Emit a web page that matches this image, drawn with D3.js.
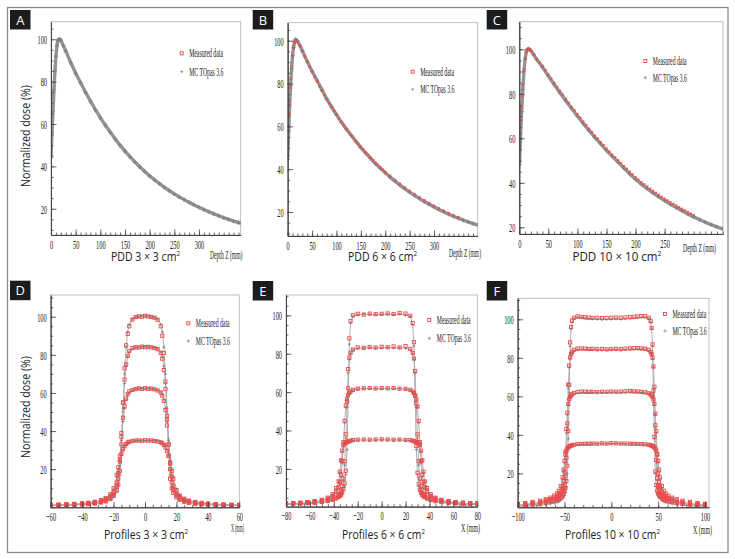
<!DOCTYPE html>
<html><head><meta charset="utf-8">
<script src="https://cdn.jsdelivr.net/npm/d3@7"></script>
<style>
body{margin:0;background:#fff;}
svg{display:block;}
</style></head><body>
<svg id="chart" width="735" height="559"></svg>
<script>
// ---------------- DATA ----------------
// PDD 3x3
const pddA_depthMC = [0,2,4,6,8,10,12,14,16,18,20,25,30,40,50,60,70,80,90,100,110,120,130,140,150,160,170,180,190,200,210,220,230,240,250,260,270,280,290,300,310,320,330,340,350,360,370,380,385];
const pddA_MC = [44,56,66,76,85,92,97,99.5,100,100,99.5,97,94.5,89,84,79.5,75,70.8,66.8,63,59.5,56.2,53,50,47.2,44.6,42.1,39.8,37.6,35.5,33.6,31.8,30.1,28.5,27,25.6,24.3,23,21.8,20.7,19.6,18.6,17.6,16.7,15.8,15,14.2,13.5,13.2];
const pddA_depthMeas = [0,1,2,3,4,5,6,8,10,12,14,16,18,20,25,30,40,50,60,70,80,90,100,110,120,130,140,150,160,170,180,190,200,210,220,230,240,250,260,270,280,290,300,310,320,330,340,350,360,370,380];
const pddA_Meas = [45,54,60,65,70,75,79,86,92,96.5,99,99.8,99.6,99,96.6,94,88.6,83.5,79,74.5,70.3,66.3,62.5,59,55.7,52.5,49.5,46.8,44.2,41.8,39.5,37.3,35.2,33.4,31.6,29.9,28.3,26.8,25.4,24.1,22.8,21.6,20.5,19.4,18.4,17.4,16.5,15.6,14.8,14,13.3];
// PDD 6x6
const pddB_depthMC = [0,2,4,6,8,10,12,14,16,18,20,25,30,40,50,60,70,80,90,100,110,120,130,140,150,160,170,180,190,200,210,220,230,240,250,260,270,280,290,300,310,320,330,340,350,360,370,380,390];
const pddB_MC = [46,58,70,79,87,93,97,99.5,100.5,100.3,99.8,97.8,95.3,90.3,85.7,81.5,77.2,72.8,69.1,65.5,62,58.8,55.8,52.9,50.1,47.5,45,42.6,40.4,38.3,36.3,34.4,32.6,30.9,29.3,27.8,26.3,24.9,23.6,22.4,21.2,20.1,19,18,17.1,16.2,15.4,14.6,13.9];
const pddB_depthMeas = [0,1,2,3,4,5,6,8,10,12,14,16,18,20,25,30,35,40,45,50,55,60,65,70,75,80,85,90,95,100,105,110,115,120,125,130,135,140,145,150,155,160,165,170,175,180,185,190,195,200,210,220,230,240,250,260,270,280,290,300,310,320,330,340,350];
const pddB_Meas = [46,52,60,66,72,78,82,88,93,96.5,98.8,99.6,99.8,99.4,97.4,95,92.6,90.1,87.7,85.4,83.1,80.9,78.7,76.6,74.6,72.6,70.7,68.9,67.1,65.4,63.7,62.1,60.5,59,57.5,56,54.6,53.2,51.8,50.5,49.2,47.9,46.7,45.5,44.3,43.1,42,40.9,39.8,38.7,36.9,35,33.2,31.5,29.9,28.4,26.9,25.5,24.2,22.9,21.7,20.6,19.5,18.5,17.6];
// PDD 10x10
const pddC_depthMC = [0,2,4,6,8,10,12,14,16,18,20,25,30,40,50,60,70,80,90,100,110,120,130,140,150,160,170,180,190,200,210,220,230,240,250,260,270,280,290,300,310,320,330,340,350];
const pddC_MC = [48,60,72,82,90,95.5,98.8,100,100.2,99.9,99.4,97.5,95.4,92,88,84.2,80.5,76.9,73.4,70,66.7,63.5,60.4,57.5,54.6,51.9,49.3,46.6,44,41.6,39.4,37.4,35.5,33.7,32,30.4,28.9,27.4,26,24.7,23.5,22.3,21.2,20.2,19.3];
const pddC_depthMeas = [0,1,2,3,4,5,6,8,10,12,14,16,18,20,25,30,35,40,45,50,55,60,65,70,75,80,85,90,95,100,105,110,115,120,125,130,135,140,145,150,155,160,165,170,175,180,185,190,195,200,205,210,215,220,225,230,235,240,245,250,255,260,265,270,275,280,285,290,295,300];
const pddC_Meas = [50,56,62,68,74,79,84,91,96,99,100,100,99.8,99.3,97.6,95.8,94,92.5,90.6,88.7,86.8,85,83.1,81.3,79.5,77.7,75.9,74.2,72.5,70.8,69.2,67.5,65.9,64.3,62.8,61.2,59.8,58.3,56.9,55.4,54,52.7,51.4,50.1,48.8,47.5,46.3,45,43.8,42.5,41.4,40.3,39.3,38.3,37.3,36.4,35.5,34.6,33.7,32.9,32.1,31.3,30.5,29.8,29,28.3,27.6,26.9,26.2,25.5];

// Profiles 3x3
const profD_x = [-60,-55,-50,-45,-40,-36,-32,-28,-25,-22,-20,-18,-17,-16,-15,-14,-13,-12,-11,-10,-8,-6,-4,-2,0,2,4,6,8,10,11,12,13,14,15,16,17,18,20,22,25,28,32,36,40,45,50,55,60];
const profD_MC100 = [0.9,1.0,1.0,1.1,1.3,1.5,1.8,2.3,2.9,4.0,5.5,8,11,17,30,50,70,84,92,96,98.8,99.6,100,100.3,100.4,100.3,100,99.6,98.8,96,92,84,70,50,30,17,11,8,5.5,4.0,2.9,2.3,1.8,1.5,1.3,1.1,1.0,1.0,0.9];
const profD_MC84 = [1.0,1.1,1.2,1.3,1.5,1.7,2.1,2.7,3.4,4.8,6.5,10,14,22,36,52,65,74,79,81.5,83.2,83.8,84,84.2,84.2,84.2,84,83.8,83.2,81.5,79,74,65,52,36,22,14,10,6.5,4.8,3.4,2.7,2.1,1.7,1.5,1.3,1.2,1.1,1.0];
const profD_MC62 = [1.1,1.2,1.3,1.5,1.7,2.0,2.5,3.2,4.0,5.6,7.5,12,17,25,35,45,52,56.5,59,60.5,61.5,62,62.2,62.3,62.3,62.3,62.2,62,61.5,60.5,59,56.5,52,45,35,25,17,12,7.5,5.6,4.0,3.2,2.5,2.0,1.7,1.5,1.3,1.2,1.1];
const profD_MC35 = [1.2,1.3,1.5,1.7,2.0,2.3,2.8,3.6,4.6,6.5,9.5,16,20,24,27.5,30,31.8,33,33.8,34.3,34.7,34.9,35,35,35,35,35,34.9,34.7,34.3,33.8,33,31.8,30,27.5,24,20,16,9.5,6.5,4.6,3.6,2.8,2.3,2.0,1.7,1.5,1.3,1.2];
const profD_Meas100 = [1.1,1.1,1.2,1.3,1.5,1.7,2.0,2.5,3.1,4.3,6,9,12,19,33,55,73,85,91,95,98.5,99.8,100.2,100,100.5,100.1,99.9,99.5,98.4,95,90,81,66,46,27,15,10,7.5,5.2,3.9,2.9,2.3,1.9,1.6,1.4,1.2,1.1,1.1,1.0];
const profD_Meas84 = [1.2,1.2,1.3,1.4,1.6,1.8,2.2,2.8,3.6,5.0,7,11,15,24,39,55,67,75,79.5,82,83.5,84,83.8,84.3,84,84.2,83.9,83.6,83,81,78,72,62,48,33,20,13,9.5,6.2,4.6,3.3,2.6,2.1,1.7,1.5,1.3,1.2,1.1,1.1];
const profD_Meas62 = [1.2,1.3,1.4,1.6,1.8,2.1,2.6,3.4,4.3,6.0,8,13,18,27,37,47,53,57,59.3,60.8,61.6,62,62.4,62.1,62.5,62.2,62.3,61.9,61.3,60.2,58.6,55.8,51,43,33,23,16,11,7.2,5.4,3.9,3.1,2.5,2.0,1.7,1.5,1.3,1.2,1.2];
const profD_Meas35 = [1.3,1.4,1.6,1.8,2.1,2.4,2.9,3.8,4.9,7,10,17,21,25,28,30.5,32,33.2,34,34.4,34.8,35,35.1,34.9,35.2,35,35.1,34.8,34.5,34.1,33.6,32.7,31.5,29.5,27,23.5,19,15,9,6.2,4.5,3.5,2.8,2.3,2.0,1.7,1.5,1.4,1.3];

// Profiles 6x6
const profE_x = [-80,-74,-68,-62,-56,-50,-45,-41,-38,-36,-35,-34,-33,-32,-31,-30,-29,-28,-27,-26,-24,-20,-15,-10,-5,0,5,10,15,20,24,26,27,28,29,30,31,32,33,34,35,36,38,41,45,50,56,62,68,74,80];
const profE_MC100 = [1.4,1.5,1.6,1.8,2.0,2.4,2.9,3.5,4.2,5,5.5,6,7,8.5,11,17,30,55,85,96,99.5,100.3,100.6,100.5,100.4,100.5,100.6,100.4,100.7,100.2,99.4,95,84,55,30,17,11,8.5,7,6,5.5,5,4.2,3.5,2.9,2.4,2.0,1.8,1.6,1.5,1.4];
const profE_MC83 = [1.6,1.7,1.8,2.0,2.3,2.8,3.4,4.2,5,6,6.6,8,10,14,22,36,52,70,77,80,82,82.8,83,83.2,83,83.1,83.2,83,83.1,82.9,82,80,77,70,52,36,22,14,10,8,6.6,6,5,4.2,3.4,2.8,2.3,2.0,1.8,1.7,1.6];
const profE_MC62 = [1.8,1.9,2.0,2.3,2.7,3.3,4.2,5.5,7.5,10,12.5,16,23,33,44,52,56,58,59.3,60,61,61.6,61.8,61.9,61.8,61.9,61.8,61.9,61.7,61.6,61,60,59.3,58,56,52,44,33,23,16,12.5,10,7.5,5.5,4.2,3.3,2.7,2.3,2.0,1.9,1.8];
const profE_MC35 = [1.9,2.0,2.2,2.5,3.0,3.7,4.8,6.5,9.5,13,18,24,29,32,33,33.5,33.8,34,34.3,34.5,34.8,35,35.1,35,35.1,35.2,35.1,35,35.1,34.9,34.8,34.5,34.3,34,33.8,33.5,33,32,29,24,18,13,9.5,6.5,4.8,3.7,3.0,2.5,2.2,2.0,1.9];
const profE_Meas100 = [1.8,1.9,2.0,2.2,2.4,2.8,3.3,3.9,4.6,5.4,5.9,6.5,7.6,9.5,12.5,19,34,62,88,97,100,100.8,100.4,100.9,100.6,100.8,101,100.7,101.2,100.9,99.8,96,86,58,32,18,12,9,7.5,6.4,5.8,5.3,4.5,3.8,3.2,2.7,2.3,2.1,1.9,1.8,1.7];
const profE_Meas83 = [1.9,2.0,2.1,2.3,2.6,3.1,3.7,4.5,5.4,6.4,7,8.5,11,15,24,38,55,72,78,80.5,82.2,83.3,83.1,83.5,83.2,83.6,83.4,83.8,83.3,84,82.5,80.4,77.5,71,54,38,24,15,11,8.6,7,6.4,5.4,4.5,3.7,3.1,2.6,2.3,2.1,2.0,1.9];
const profE_Meas62 = [2.0,2.1,2.3,2.6,3.0,3.6,4.5,5.9,8,10.5,13,17,24,34,45,53,56.5,58.5,59.6,60.3,61.2,61.8,62,62.1,61.9,62.1,62,62.1,61.8,61.7,61.2,60.3,59.5,58.3,56.3,52.5,45,34,24,17,13,10.5,8,5.9,4.5,3.6,3.0,2.6,2.3,2.1,2.0];
const profE_Meas35 = [2.1,2.2,2.4,2.7,3.2,3.9,5.0,6.8,10,13.5,18.5,24.5,29.5,32.3,33.2,33.7,34,34.2,34.5,34.7,35,35.2,35.3,35.2,35.3,35.4,35.3,35.2,35.3,35.1,35,34.7,34.5,34.2,34,33.7,33.2,32.3,29.5,24.5,18.5,13.5,10,6.8,5.0,3.9,3.2,2.7,2.4,2.2,2.1];

// Profiles 10x10
const profF_x = [-100,-92,-84,-76,-70,-65,-61,-58,-56,-54,-52,-51,-50,-49,-48,-47,-46,-45,-44,-43,-42,-40,-36,-32,-28,-24,-20,-15,-10,-5,0,5,10,15,20,24,28,32,36,40,42,43,44,45,46,47,48,49,50,51,52,54,56,58,61,65,70,76,84,92,100];
const profF_MC100 = [2.6,2.8,3.1,3.4,3.8,4.2,4.6,5.0,5.4,6,7,7.7,8.6,10,13,20,38,62,86,95,98.5,100.3,101,100.8,100.6,100.3,100.2,100.1,100,100,100.1,100.2,100.1,100.3,100.4,100.6,100.8,101,101.1,100.4,98.5,95,86,62,38,20,13,10,8.6,7.7,7,6,5.4,5.0,4.6,4.2,3.8,3.4,3.1,2.8,2.6];
const profF_MC84 = [3.0,3.3,3.6,4.1,4.6,5.1,5.7,6.3,6.9,7.8,9.3,10.5,12.5,16.5,26,44,64,75,79.5,81.5,82.6,83.6,84.2,84.3,84.3,84.2,84.2,84.1,84,84.1,84.2,84.2,84.1,84.3,84.4,84.4,84.5,84.4,84.3,83.7,82.6,81.5,79.5,75,64,44,26,16.5,12.5,10.5,9.3,7.8,6.9,6.3,5.7,5.1,4.6,4.1,3.6,3.3,3.0];
const profF_MC62 = [3.3,3.6,4.0,4.5,5.1,5.7,6.5,7.3,8.2,9.6,12,14.5,19,29,41,50.5,55.5,58,59.3,60,60.5,61.2,61.7,61.9,62,62,62,62,62,62,62.1,62.1,62,62.1,62.2,62.2,62.1,62,61.7,61.2,60.5,60,59.3,58,55.5,50.5,41,29,19,14.5,12,9.6,8.2,7.3,6.5,5.7,5.1,4.5,4.0,3.6,3.3];
const profF_MC35 = [3.6,4.0,4.5,5.1,5.8,6.6,7.6,8.7,10,12.5,17,21,25.5,29,31.3,32.6,33.3,33.7,34,34.2,34.4,34.7,35,35.1,35.2,35.2,35.3,35.3,35.4,35.4,35.5,35.5,35.4,35.3,35.3,35.3,35.2,35.1,35,34.7,34.4,34.2,34,33.7,33.3,32.6,31.3,29,25.5,21,17,12.5,10,8.7,7.6,6.6,5.8,5.1,4.5,4.0,3.6];
const profF_Meas100 = [3.2,3.5,3.9,4.3,4.8,5.3,5.8,6.3,6.8,7.5,8.6,9.5,10.8,12.5,16,24,42,66,88,96,99.3,100.8,101.5,101.2,101,100.9,100.7,100.8,100.6,100.7,100.8,100.9,100.8,101,101.1,101.3,101.5,101.7,101.6,100.8,99,95.5,87,63,39,21,14,11,9.6,8.7,8,7,6.4,6,5.5,5,4.6,4.2,3.8,3.5,3.3];
const profF_Meas84 = [3.6,4.0,4.4,4.9,5.5,6.1,6.8,7.4,8.1,9.1,10.7,12,14.2,18.5,28,46,66,76,80.2,82,83.1,84.2,84.8,84.9,84.8,84.6,84.7,84.5,84.6,84.4,84.6,84.7,84.5,84.8,84.9,85,85.1,84.9,84.7,84.2,83,82,80,75.5,65,45,27,17.5,13.5,11.5,10.2,8.7,7.9,7.2,6.5,5.9,5.3,4.8,4.2,3.9,3.6];
const profF_Meas62 = [3.9,4.3,4.8,5.3,6.0,6.7,7.6,8.4,9.4,10.8,13.3,16,21,31,43,51.5,56,58.5,59.8,60.5,61,61.8,62.3,62.5,62.4,62.3,62.4,62.2,62.4,62.3,62.5,62.4,62.5,62.6,62.7,62.6,62.5,62.3,62.1,61.6,61,60.5,59.6,58.3,56,51,42,30,20,15.5,13,10.6,9.2,8.3,7.4,6.6,5.9,5.3,4.7,4.3,3.9];
const profF_Meas35 = [4.2,4.6,5.2,5.8,6.6,7.4,8.5,9.6,11,13.5,18,22,26.5,29.8,31.8,32.9,33.5,33.9,34.2,34.4,34.6,34.9,35.2,35.3,35.4,35.4,35.5,35.4,35.6,35.5,35.7,35.6,35.5,35.5,35.4,35.4,35.3,35.2,35.1,34.9,34.6,34.4,34.2,33.9,33.5,32.9,31.8,29.8,26.5,22,18,13.5,11,9.6,8.5,7.4,6.6,5.8,5.2,4.6,4.2];

// Tick labels
const ticksPDD_AB = [0,50,100,150,200,250,300];
const ticksPDD_C = [0,50,100,150,200,250];
const ticksProfD = [-60,-40,-20,0,20,40,60];
const ticksProfE = [-80,-60,-40,-20,0,20,40,60,80];
const ticksProfF = [-100,-50,0,50,100];
const ticksDose = [20,40,60,80,100];
const legendLabels = ["Measured data","MC TOpas 3.6"];

// ---------------- DRAWING ----------------
const svg = d3.select("#chart");
const RED = "#ee4a4a";
const SERIF = "'Liberation Serif', serif", SANS = "'Open Sans', sans-serif";

svg.append("rect").attr("x",7.5).attr("y",7.5).attr("width",720.5).attr("height",545)
  .attr("fill","none").attr("stroke","#8a8a8a").attr("stroke-width",1.3);

function squeeze(sel, f){
  sel.each(function(){
    const w = this.getComputedTextLength();
    if (w>0) d3.select(this).attr("textLength", w*f).attr("lengthAdjust","spacingAndGlyphs");
  });
}
function fitTo(sel, w){ sel.attr("textLength", w).attr("lengthAdjust","spacingAndGlyphs"); }

const pddSeries = (dm, vm, dc, vc) => [{x:dc,y:vc,t:"mc",w:3.4},{x:dm,y:vm,t:"meas"}];
const profSeries = (x, mcs, meas) => mcs.map(v=>({x:x,y:v,t:"mc",w:0.9})).concat(meas.map(v=>({x:x,y:v,t:"meas"})));

const panels = [
 {id:"A", box:[10,10], f:[51,240.7,21.7,235], xd:[0,384.5], yd:[7.6,108.3], xt:ticksPDD_AB, xm:10, ym:5, redUnder:true,
  xlab:"Depth Z (mm)", xlabPos:[210,258.5], xlabW:32.5, title:"PDD 3 × 3 cm", tPos:[145.5,261], tW:69, leg:[181.7,53.3,71.7], ytitle:136,
  series: pddSeries(pddA_depthMeas,pddA_Meas,pddA_depthMC,pddA_MC), pdd:true},
 {id:"B", box:[252.7,10], f:[287.7,477.7,22.7,236], xd:[0,389.6], yd:[8.8,108.4], xt:ticksPDD_AB, xm:10, ym:5,
  xlab:"Depth Z (mm)", xlabPos:[449,256.5], xlabW:32, title:"PDD 6 × 6 cm", tPos:[382.5,261], tW:69, leg:[412.7,71.7,89.3],
  series: pddSeries(pddB_depthMeas,pddB_Meas,pddB_depthMC,pddB_MC), pdd:true},
 {id:"C", box:[486.7,10], f:[519.3,723,21.7,234], xd:[0,350.5], yd:[17,112.4], xt:ticksPDD_C, xm:10, ym:5,
  xlab:"Depth Z (mm)", xlabPos:[683,251.5], xlabW:33, title:"PDD 10 × 10 cm", tPos:[617,261], tW:89, leg:[645.3,61,77.7],
  series: pddSeries(pddC_depthMeas,pddC_Meas,pddC_depthMC,pddC_MC), pdd:true},
 {id:"D", box:[10,280.7], f:[50.7,239.3,295,507.3], xd:[-60,60], yd:[0,111.4], xt:ticksProfD, xm:5, ym:5,
  xlab:"X (mm)", xlabPos:[231,531.5], xlabW:13, title:"Profiles 3 × 3 cm", tPos:[146,539], tW:84, leg:[188.3,323.3,341], ytitle:407,
  series: profSeries(profD_x,[profD_MC100,profD_MC84,profD_MC62,profD_MC35],[profD_Meas100,profD_Meas84,profD_Meas62,profD_Meas35])},
 {id:"E", box:[252.7,281], f:[286,477.3,295,506.7], xd:[-80,80], yd:[0.3,110.6], xt:ticksProfE, xm:5, ym:5,
  xlab:"X (mm)", xlabPos:[461,531.5], xlabW:19, title:"Profiles 6 × 6 cm", tPos:[383.5,539], tW:83, leg:[429.3,320,338.3],
  series: profSeries(profE_x,[profE_MC100,profE_MC83,profE_MC62,profE_MC35],[profE_Meas100,profE_Meas83,profE_Meas62,profE_Meas35])},
 {id:"F", box:[486.7,281], f:[517.7,709,298.3,507.3], xd:[-100,104.3], yd:[2.4,110.9], xt:ticksProfF, xm:10, ym:5,
  xlab:"X (mm)", xlabPos:[693,533.5], xlabW:19, title:"Profiles 10 × 10 cm", tPos:[612.5,539], tW:95, leg:[665,314,331],
  series: profSeries(profF_x,[profF_MC100,profF_MC84,profF_MC62,profF_MC35],[profF_Meas100,profF_Meas84,profF_Meas62,profF_Meas35])}
];

function cross(g, x, y, s, color, sw){
  g.append("path").attr("d",`M${x-s},${y}H${x+s}M${x},${y-s}V${y+s}`).attr("stroke",color).attr("stroke-width",sw).attr("fill","none");
}

panels.forEach(p=>{
  const [x0,x1,y0,y1] = p.f;
  const x = d3.scaleLinear().domain(p.xd).range([x0,x1]);
  const y = d3.scaleLinear().domain(p.yd).range([y1,y0]);
  const g = svg.append("g");

  g.append("rect").attr("x",x0).attr("y",y0).attr("width",x1-x0).attr("height",y1-y0)
    .attr("fill","none").attr("stroke","#b0b0b0").attr("stroke-width",0.8);

  const cid = "clip"+p.id;
  svg.append("defs").append("clipPath").attr("id",cid).append("rect")
    .attr("x",x0).attr("y",y0).attr("width",x1-x0).attr("height",y1-y0);
  const dg = g.append("g").attr("clip-path",`url(#${cid})`);

  const line = d3.line().x(d=>x(d[0])).y(d=>y(d[1]));
  function drawMC(s){
    const pts = s.x.map((xv,i)=>[xv,s.y[i]]);
    dg.append("path").attr("d",line(pts)).attr("fill","none")
      .attr("stroke", p.pdd ? "#939393" : "#a8a8a8").attr("stroke-width",s.w).attr("stroke-linejoin","round");
    pts.forEach(d=>cross(dg, x(d[0]), y(d[1]), p.pdd?2.2:1.6, "#7f7f7f", 0.8));
  }
  function drawMeas(s){
    const pts = s.x.map((xv,i)=>[xv,s.y[i]]);
    if (p.pdd){
      dg.selectAll(null).data(pts).enter().append("rect")
        .attr("x",d=>x(d[0])-1.2).attr("y",d=>y(d[1])-1.2).attr("width",2.4).attr("height",2.4)
        .attr("fill",RED).attr("fill-opacity",0.85);
    } else {
      dg.selectAll(null).data(pts).enter().append("rect")
        .attr("x",d=>x(d[0])-1.6).attr("y",d=>y(d[1])-1.6).attr("width",3.2).attr("height",3.2)
        .attr("fill","none").attr("stroke",RED).attr("stroke-width",0.9);
    }
  }
  const mcs = p.series.filter(s=>s.t==="mc"), ms = p.series.filter(s=>s.t==="meas");
  if (p.redUnder){ ms.forEach(drawMeas); mcs.forEach(drawMC); }
  else { mcs.forEach(drawMC); ms.forEach(drawMeas); }

  // axes
  const minorX = d3.range(Math.ceil(p.xd[0]/p.xm)*p.xm, p.xd[1]+0.001, p.xm);
  const minorY = d3.range(Math.ceil(p.yd[0]/p.ym)*p.ym, p.yd[1]+0.001, p.ym);
  const ax = g.append("g").attr("transform",`translate(0,${y1})`);
  ax.call(d3.axisBottom(x).tickValues(minorX).tickSize(-2.5).tickSizeOuter(0).tickFormat(""));
  ax.append("g").call(d3.axisBottom(x).tickValues(p.xt).tickSize(-5.5).tickSizeOuter(0).tickPadding(4).tickFormat(d3.format("d")));
  const ay = g.append("g").attr("transform",`translate(${x0},0)`);
  ay.call(d3.axisLeft(y).tickValues(minorY).tickSize(-2.5).tickSizeOuter(0).tickFormat(""));
  ay.append("g").call(d3.axisLeft(y).tickValues(ticksDose).tickSize(-5.5).tickSizeOuter(0).tickPadding(4).tickFormat(d3.format("d")));
  g.selectAll(".domain").attr("stroke","#444").attr("stroke-width",0.9);
  g.selectAll(".tick line").attr("stroke","#444").attr("stroke-width",0.8);
  g.selectAll(".tick text").attr("font-family",SERIF).attr("font-size",13.5).attr("fill","#222");
  squeeze(g.selectAll(".tick text"), 0.47);

  const xl = g.append("text").attr("x",p.xlabPos[0]).attr("y",p.xlabPos[1])
    .attr("font-family",SERIF).attr("font-size",12).attr("fill","#222").text(p.xlab);
  fitTo(xl, p.xlabW);

  const tt = g.append("text").attr("x",p.tPos[0]).attr("y",p.tPos[1]).attr("text-anchor","middle")
    .attr("font-family",SANS).attr("font-size",12.5).attr("fill","#222");
  tt.append("tspan").text(p.title);
  tt.append("tspan").attr("dy",-5).attr("font-size",7.5).text("2");
  fitTo(tt, p.tW);

  if (p.ytitle){
    const yt = g.append("text").attr("transform",`translate(29.5,${p.ytitle}) rotate(-90)`)
      .attr("text-anchor","middle").attr("font-family",SANS).attr("font-size",12.5).attr("fill","#222")
      .text("Normalized dose (%)");
    fitTo(yt, 102);
  }

  const [lx, ly1, ly2] = p.leg;
  g.append("rect").attr("x",lx-1.5).attr("y",ly1-1.5).attr("width",3).attr("height",3)
    .attr("fill","none").attr("stroke",RED).attr("stroke-width",0.9);
  cross(g, lx, ly2, 1.6, "#8a8a8a", 0.8);
  [ly1, ly2].forEach((ly,i)=>{
    const t = g.append("text").attr("x",lx+7.5).attr("y",ly+3.8).attr("font-family",SERIF)
      .attr("font-size",12).attr("fill","#222").text(legendLabels[i]);
    squeeze(t, 0.48);
  });

  g.append("rect").attr("x",p.box[0]).attr("y",p.box[1]).attr("width",20.5).attr("height",19.5).attr("fill","#1c1c1c");
  g.append("text").attr("x",p.box[0]+10.25).attr("y",p.box[1]+14.5).attr("text-anchor","middle")
    .attr("font-family",SANS).attr("font-size",13).attr("fill","#fff").text(p.id);
});
</script></body></html>
